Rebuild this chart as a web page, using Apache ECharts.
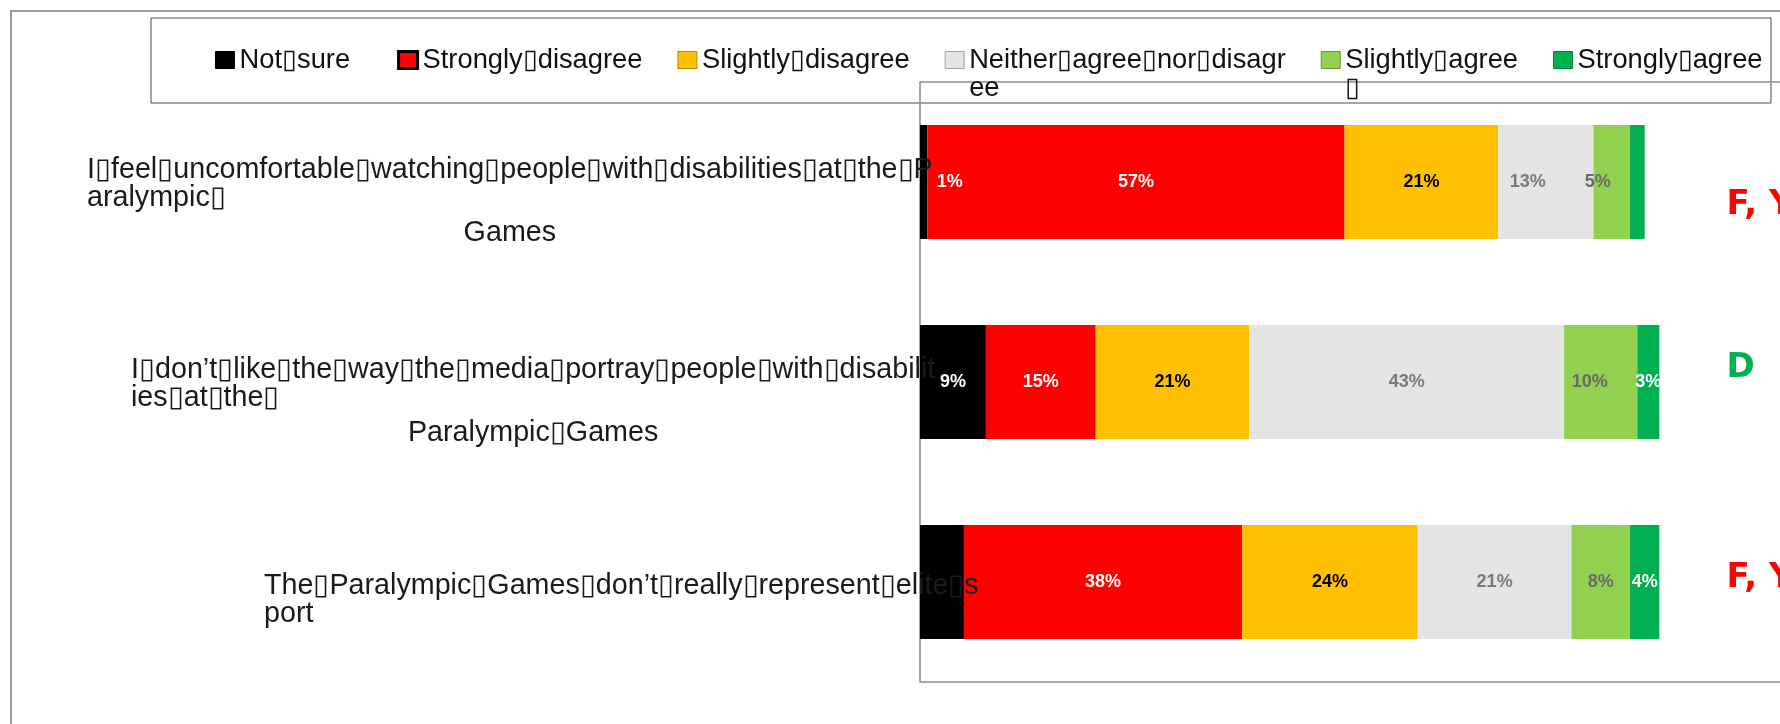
<!DOCTYPE html>
<html>
<head>
<meta charset="utf-8">
<script src="https://cdn.jsdelivr.net/npm/echarts@6/dist/echarts.min.js"></script>
<style>html,body{margin:0;padding:0;background:#fff;}#c{width:1780px;height:724px;}</style>
</head>
<body>
<div id="c"></div>
<script>
const B = '\u25AF';
// ---- data ----
const categories = [
  'I' + B + 'feel' + B + 'uncomfortable' + B + 'watching' + B + 'people' + B + 'with' + B + 'disabilities' + B + 'at' + B + 'the' + B + 'P\naralympic' + B + '\nGames',
  'I' + B + 'don\u2019t' + B + 'like' + B + 'the' + B + 'way' + B + 'the' + B + 'media' + B + 'portray' + B + 'people' + B + 'with' + B + 'disabilit\nies' + B + 'at' + B + 'the' + B + '\nParalympic' + B + 'Games',
  'The' + B + 'Paralympic' + B + 'Games' + B + 'don\u2019t' + B + 'really' + B + 'represent' + B + 'elite' + B + 's\nport'
];
const seriesNames = ['Not' + B + 'sure', 'Strongly' + B + 'disagree', 'Slightly' + B + 'disagree',
  'Neither' + B + 'agree' + B + 'nor' + B + 'disagree', 'Slightly' + B + 'agree', 'Strongly' + B + 'agree'];
const legendLabels = ['Not' + B + 'sure', 'Strongly' + B + 'disagree', 'Slightly' + B + 'disagree',
  'Neither' + B + 'agree' + B + 'nor' + B + 'disagr\nee', 'Slightly' + B + 'agree\n' + B, 'Strongly' + B + 'agree'];
const notSure          = [1, 9, 6];
const stronglyDisagree = [57, 15, 38];
const slightlyDisagree = [21, 21, 24];
const neither          = [13, 43, 21];
const slightlyAgree    = [5, 10, 8];
const stronglyAgree    = [2, 3, 4];
const labelShown = [
  [true, true, false],
  [true, true, true],
  [true, true, true],
  [true, true, true],
  [true, true, true],
  [false, true, true]
];
const sideNotes = ['F, Y', 'D', 'F, Y'];

// ---- styles / layout ----
const colors = ['#000000', '#ff0000', '#ffc000', '#e5e4e4', '#92d050', '#00b050'];
const labelColors = ['#ffffff', '#ffffff', '#000000', '#7a7a7a', '#6a6a6a', '#ffffff'];
const legendBorders = [['#000000', 1], ['#000000', 3], ['#b88a00', 1], ['#a0a0a0', 1], ['#6a9a30', 1], ['#00843c', 1]];
const noteColors = ['#ff0000', '#00b050', '#ff0000'];
const notePad = [[46, 0, 0, 0], [0, 0, 28, 0], [0, 0, 8, 0]];
const catPad = [0, 44, 177];
const centerLast = [true, true, false];
const labelOffsets = { '3-0': [-18, 0], '4-0': [-14, 0], '4-1': [-11, 0] };

const values = [notSure, stronglyDisagree, slightlyDisagree, neither, slightlyAgree, stronglyAgree];
const catFont = '"Liberation Sans", Arial, sans-serif';
const barFont = '"Liberation Sans Narrow", "Liberation Sans", Arial, sans-serif';

const catRich = { s: { lineHeight: 10, fontSize: 8 } };
for (let i = 0; i < categories.length; i++) {
  catRich['l' + i] = { align: 'left', lineHeight: 28, fontSize: 28.7, fontFamily: catFont, color: '#1a1a1a', padding: [0, 0, 0, catPad[i]] };
  catRich['c' + i] = { align: 'center', lineHeight: 42, fontSize: 28.7, fontFamily: catFont, color: '#1a1a1a', padding: [0, 0, 0, catPad[i]] };
}
const noteRich = {};
for (let i = 0; i < sideNotes.length; i++) {
  noteRich['n' + i] = { color: noteColors[i], fontSize: 34, fontWeight: 'bold', fontFamily: '"DejaVu Sans", Verdana, sans-serif', padding: notePad[i] };
}

const series = values.map(function (arr, s) {
  return {
    name: seriesNames[s],
    type: 'bar',
    stack: 'total',
    barWidth: 114,
    itemStyle: { color: colors[s] },
    label: {
      show: true, position: 'inside', color: labelColors[s],
      fontWeight: 'bold', fontSize: 18, fontFamily: barFont,
      formatter: '{c}%'
    },
    labelLayout: s === 0 ? function (p) { return p.dataIndex === 0 ? { dx: 26 } : {}; } : undefined,
    labelLine: s === 0 ? { show: true, lineStyle: { color: '#9b0000', width: 1 } } : undefined,
    data: arr.map(function (v, i) {
      const item = { value: v };
      const off = labelOffsets[s + '-' + i];
      if (!labelShown[s][i]) item.label = { show: false };
      else if (off) item.label = { offset: off };
      return item;
    })
  };
});

const chart = echarts.init(document.getElementById('c'), null, { renderer: 'canvas' });
chart.setOption({
  animation: false,
  backgroundColor: '#ffffff',
  graphic: [
    { type: 'rect', z: -1, shape: { x: 11, y: 11, width: 1800, height: 800 }, style: { fill: 'none', stroke: '#9a9a9a', lineWidth: 2 } },
    { type: 'rect', z: -1, shape: { x: 151, y: 18, width: 1620, height: 85 }, style: { fill: 'none', stroke: '#4a4a4a', lineWidth: 1 } }
  ],
  legend: {
    left: 215, top: 18, padding: 0, itemGap: 35, itemWidth: 19, itemHeight: 17, icon: 'rect',
    textStyle: { fontSize: 27.3, fontFamily: catFont, color: '#111111', lineHeight: 28 },
    formatter: function (name) {
      const t = legendLabels[seriesNames.indexOf(name)];
      return t.indexOf('\n') >= 0 ? '\n' + t : t;
    },
    data: seriesNames.map(function (n, i) {
      const d = { name: n, itemStyle: { borderColor: legendBorders[i][0], borderWidth: legendBorders[i][1] } };
      if (i === 0) d.textStyle = { padding: [0, 12, 0, 0] };
      return d;
    })
  },
  grid: {
    left: 920, right: -18.4, top: 82, bottom: 42,
    show: true, borderColor: '#8c8c8c', borderWidth: 1.5, backgroundColor: 'transparent',
    outerBoundsMode: 'none', containLabel: false
  },
  xAxis: {
    type: 'value', min: 0, max: 120, show: false
  },
  yAxis: [
    {
      type: 'category', data: categories, inverse: true, z: 10,
      axisLine: { show: false }, axisTick: { show: false }, splitLine: { show: false },
      axisLabel: {
        interval: 0, align: 'left', margin: 833, padding: [36, 0, 0, 0],
        formatter: function (value, idx) {
          const lines = value.split('\n');
          const body = lines.map(function (ln, k) {
            const key = (k === lines.length - 1 && centerLast[idx] ? 'c' : 'l') + idx;
            return '{' + key + '|' + ln + '}';
          }).join('\n');
          return (lines.length > 2 ? '{s| }\n' : '') + body;
        },
        rich: catRich
      }
    },
    {
      type: 'category', data: categories, inverse: true, position: 'right', z: 10,
      axisLine: { show: false }, axisTick: { show: false }, splitLine: { show: false },
      axisLabel: {
        interval: 0, inside: true, align: 'left', margin: 72,
        formatter: function (value, idx) { return '{n' + idx + '|' + sideNotes[idx] + '}'; },
        rich: noteRich
      }
    }
  ],
  series: series
});
</script>
</body>
</html>
